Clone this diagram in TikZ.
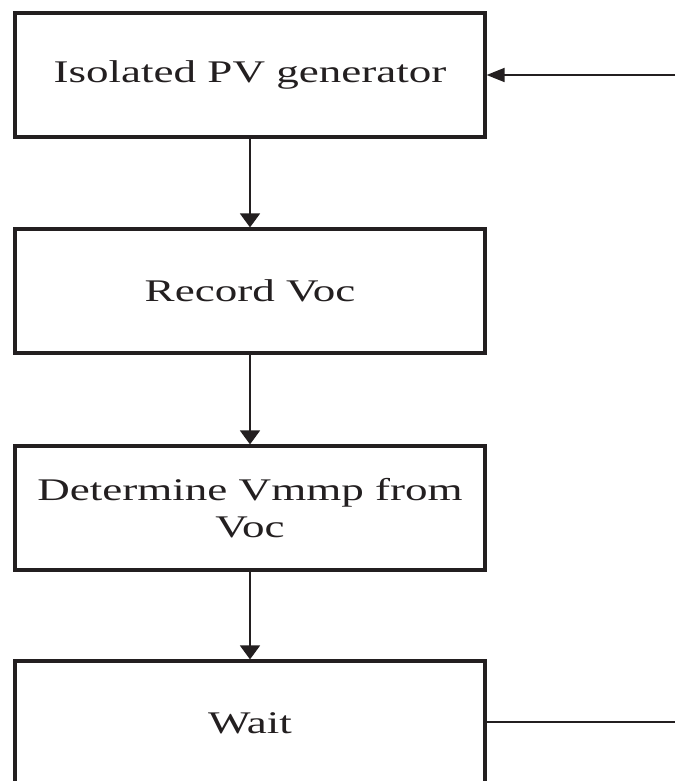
\documentclass[tikz,border=0pt]{standalone}
\usepackage{fontspec}
\setmainfont{Liberation Serif}[FakeStretch=1.43]
\usetikzlibrary{arrows.meta}
\definecolor{ink}{HTML}{231F20}
\begin{document}
\begin{tikzpicture}[x=1pt,y=1pt,
  stepbox/.style={draw=ink, line width=3.2pt, minimum width=470pt, minimum height=124pt,
    inner sep=0pt, align=center, text=ink,
    font=\fontsize{31.5}{37}\selectfont},
  flow/.style={draw=ink, line width=1.8pt},
  downtip/.style={-{Triangle[length=14pt,width=20pt]}},
  lefttip/.style={-{Triangle[length=18pt,width=14pt]}}]
  \clip (0,0) rectangle (675,-781);
  \fill[white] (0,0) rectangle (675,-781);

  % process steps, top to bottom
  \node[stepbox] (gen)  at (250,-75)  {Isolated PV generator};
  \node[stepbox] (rec)  at (250,-291) {Record Voc};
  \node[stepbox] (det)  at (250,-508) {Determine Vmmp from\\Voc};
  \node[stepbox] (wait) at (250,-723) {Wait};

  % loop ends at the right margin
  \coordinate (loopin)  at (675,-75);
  \coordinate (loopout) at (675,-722);

  \draw[flow,downtip] (gen.south) -- (rec.north);
  \draw[flow,downtip] (rec.south) -- (det.north);
  \draw[flow,downtip] (det.south) -- (wait.north);
  \draw[flow,lefttip] (loopin) -- (gen.east);
  \draw[flow] (wait.east |- loopout) -- (loopout);
\end{tikzpicture}
\end{document}
